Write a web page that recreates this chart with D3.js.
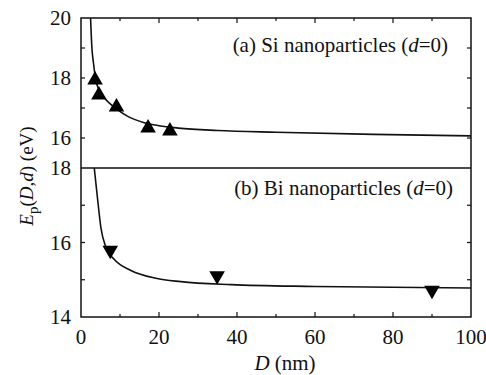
<!DOCTYPE html>
<html>
<head>
<meta charset="utf-8">
<script src="https://cdn.jsdelivr.net/npm/d3@7"></script>
<style>
  body { margin: 0; background: white; }
</style>
</head>
<body>
<div id="chart"></div>
<script>
/* global d3 */

// (a) Si nanoparticles, measured points
let siD = [3.6, 4.6, 9.1, 17.2, 22.8];
let siE = [17.93, 17.43, 17.03, 16.33, 16.23];
// (a) model curve
let siCurveD = [2.45, 2.8, 3.2, 3.7, 4.6, 6, 7.5, 9, 12, 16, 20, 25, 35, 50, 75, 100];
let siCurveE = [20.0, 19.0, 18.5, 18.0, 17.6, 17.33, 17.14, 16.98, 16.72, 16.52, 16.41, 16.33, 16.25, 16.19, 16.12, 16.07];

// (b) Bi nanoparticles, measured points
let biD = [7.5, 34.9, 90];
let biE = [15.79, 15.11, 14.72];
// (b) model curve
let biCurveD = [3.4, 4.3, 5.1, 6.4, 8.5, 12.8, 19.2, 25.6, 38.5, 60, 100];
let biCurveE = [18.0, 17.12, 16.4, 15.87, 15.55, 15.25, 15.04, 14.95, 14.87, 14.82, 14.78];

let xTicks = [0, 20, 40, 60, 80, 100];
let topTicks = [16, 18, 20];
let botTicks = [14, 16, 18];

let width = 486, height = 375;
let plotLeft = 81, plotRight = 471;
let plotTop = 18, plotMid = 168, plotBottom = 317;
let serif = "'Liberation Serif'";

let svg = d3.select('#chart')
  .append('svg')
  .attr('width', width)
  .attr('height', height);

let xScale = d3.scaleLinear().domain([0, 100]).range([plotLeft, plotRight]);
let yTop = d3.scaleLinear().domain([15, 20]).range([plotMid, plotTop]);
let yBot = d3.scaleLinear().domain([14, 18]).range([plotBottom, plotMid]);

let ink = '#111';

// inward ticks for one panel
function panelTicks(y, minors, showTop, showBottom) {
  let g = svg.append('g');
  let xs = d3.range(10, 100, 10);
  if (showBottom) {
    g.selectAll('line.xb').data(xs).enter().append('line')
      .attr('x1', d => xScale(d)).attr('x2', d => xScale(d))
      .attr('y1', y.range()[0])
      .attr('y2', d => y.range()[0] - (d % 20 === 0 ? 5 : 3))
      .attr('stroke', ink).attr('stroke-width', 1.2);
  }
  if (showTop) {
    g.selectAll('line.xt').data(xs).enter().append('line')
      .attr('x1', d => xScale(d)).attr('x2', d => xScale(d))
      .attr('y1', y.range()[1])
      .attr('y2', d => y.range()[1] + (d % 20 === 0 ? 5 : 3))
      .attr('stroke', ink).attr('stroke-width', 1.2);
  }
  g.selectAll('line.yl').data(minors).enter().append('line')
    .attr('x1', plotLeft).attr('x2', plotLeft + 4)
    .attr('y1', d => y(d)).attr('y2', d => y(d))
    .attr('stroke', ink).attr('stroke-width', 1.2);
  g.selectAll('line.yr').data(minors).enter().append('line')
    .attr('x1', plotRight).attr('x2', plotRight - 4)
    .attr('y1', d => y(d)).attr('y2', d => y(d))
    .attr('stroke', ink).attr('stroke-width', 1.2);
}

panelTicks(yTop, [16, 17, 18, 19], true, false);
panelTicks(yBot, [15, 16, 17], false, true);

// frames
svg.append('rect')
  .attr('x', plotLeft).attr('y', plotTop)
  .attr('width', plotRight - plotLeft).attr('height', plotBottom - plotTop)
  .attr('fill', 'none').attr('stroke', ink).attr('stroke-width', 1.5);
svg.append('line')
  .attr('x1', plotLeft).attr('x2', plotRight)
  .attr('y1', plotMid).attr('y2', plotMid)
  .attr('stroke', ink).attr('stroke-width', 1.5);

// tick labels
svg.selectAll('text.yt').data(topTicks).enter().append('text')
  .attr('x', plotLeft - 10).attr('y', d => yTop(d) + 7)
  .attr('text-anchor', 'end')
  .style('font-family', serif).style('font-size', '21px').attr('fill', ink)
  .text(d => d);
svg.selectAll('text.yb').data(botTicks).enter().append('text')
  .attr('x', plotLeft - 10).attr('y', d => yBot(d) + 7)
  .attr('text-anchor', 'end')
  .style('font-family', serif).style('font-size', '21px').attr('fill', ink)
  .text(d => d);
svg.selectAll('text.xt').data(xTicks).enter().append('text')
  .attr('x', d => xScale(d)).attr('y', plotBottom + 27)
  .attr('text-anchor', 'middle')
  .style('font-family', serif).style('font-size', '21px').attr('fill', ink)
  .text(d => d);

// curves, clipped to their panels
svg.append('clipPath').attr('id', 'clipTop')
  .append('rect').attr('x', plotLeft).attr('y', plotTop)
  .attr('width', plotRight - plotLeft).attr('height', plotMid - plotTop);
svg.append('clipPath').attr('id', 'clipBot')
  .append('rect').attr('x', plotLeft).attr('y', plotMid)
  .attr('width', plotRight - plotLeft).attr('height', plotBottom - plotMid);

let lineTop = d3.line()
  .x(d => xScale(d[0])).y(d => yTop(d[1]))
  .curve(d3.curveMonotoneX);
let lineBot = d3.line()
  .x(d => xScale(d[0])).y(d => yBot(d[1]))
  .curve(d3.curveMonotoneX);

svg.append('path')
  .datum(d3.zip(siCurveD, siCurveE))
  .attr('clip-path', 'url(#clipTop)')
  .attr('d', lineTop)
  .attr('fill', 'none').attr('stroke', ink).attr('stroke-width', 1.6);
svg.append('path')
  .datum(d3.zip(biCurveD, biCurveE))
  .attr('clip-path', 'url(#clipBot)')
  .attr('d', lineBot)
  .attr('fill', 'none').attr('stroke', ink).attr('stroke-width', 1.6);

// markers
let tri = d3.symbol().type(d3.symbolTriangle).size(105);
svg.selectAll('path.si').data(d3.zip(siD, siE)).enter().append('path')
  .attr('class', 'si')
  .attr('d', tri)
  .attr('transform', d => 'translate(' + xScale(d[0]) + ',' + yTop(d[1]) + ')')
  .attr('fill', '#000');
svg.selectAll('path.bi').data(d3.zip(biD, biE)).enter().append('path')
  .attr('class', 'bi')
  .attr('d', tri)
  .attr('transform', d => 'translate(' + xScale(d[0]) + ',' + yBot(d[1]) + ') rotate(180)')
  .attr('fill', '#000');

// panel labels
let la = svg.append('text')
  .attr('x', 448).attr('y', 52).attr('fill', ink)
  .attr('text-anchor', 'end')
  .style('font-family', serif).style('font-size', '21px');
la.append('tspan').text('(a) Si nanoparticles (');
la.append('tspan').style('font-style', 'italic').text('d');
la.append('tspan').text('=0)');

let lb = svg.append('text')
  .attr('x', 453).attr('y', 195).attr('fill', ink)
  .attr('text-anchor', 'end')
  .style('font-family', serif).style('font-size', '21px');
lb.append('tspan').text('(b) Bi nanoparticles (');
lb.append('tspan').style('font-style', 'italic').text('d');
lb.append('tspan').text('=0)');

// axis titles
let xl = svg.append('text')
  .attr('x', 285).attr('y', 370).attr('fill', ink)
  .attr('text-anchor', 'middle')
  .style('font-family', serif).style('font-size', '21px');
xl.append('tspan').style('font-style', 'italic').text('D');
xl.append('tspan').text(' (nm)');

let yl = svg.append('text')
  .attr('transform', 'translate(33,176) rotate(-90)').attr('fill', ink)
  .attr('text-anchor', 'middle')
  .style('font-family', serif).style('font-size', '19px');
yl.append('tspan').style('font-style', 'italic').text('E');
yl.append('tspan').attr('dy', 5).style('font-size', '15px').text('p');
yl.append('tspan').attr('dy', -5).text('(');
yl.append('tspan').style('font-style', 'italic').text('D');
yl.append('tspan').text(',');
yl.append('tspan').style('font-style', 'italic').text('d');
yl.append('tspan').text(') (eV)');
</script>
</body>
</html>
